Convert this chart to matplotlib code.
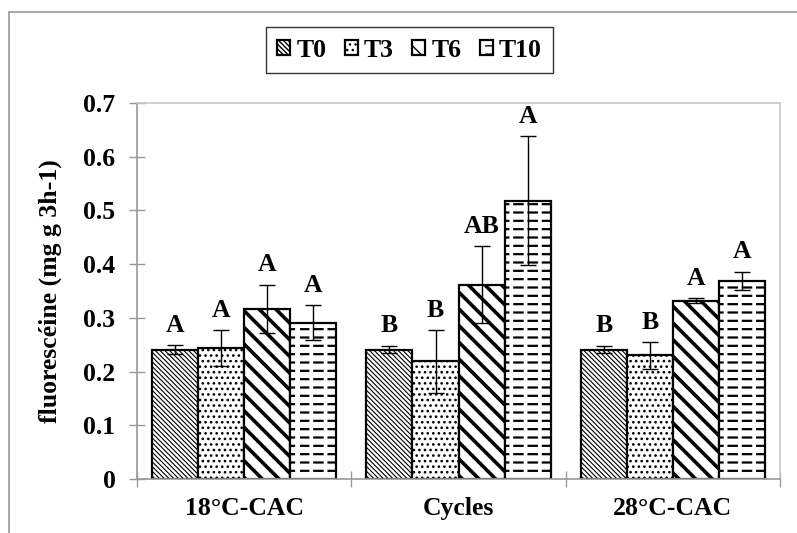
import numpy as np
import matplotlib
matplotlib.use("Agg")
import matplotlib.pyplot as plt
import matplotlib.hatch as mhatch
from matplotlib.path import Path
from matplotlib.lines import Line2D

plt.rcParams.update({
    "font.family": ["Liberation Serif", "DejaVu Serif"],
    "font.weight": "bold",
    "font.size": 18,
})


# dashed horizontal hatch (Excel "dashed horizontal" pattern) in place of '-'
class DashHatch(mhatch.HatchPatternBase):
    n_dash = 7
    frac = 0.58

    def __init__(self, hatch, density):
        self.num_lines = int((hatch.count('-') + hatch.count('+')) * density)
        self.num_vertices = self.num_lines * self.n_dash * 2

    def set_vertices_and_codes(self, vertices, codes):
        rows, step = np.linspace(0.0, 1.0, self.num_lines, False, retstep=True)
        rows += step / 2.
        starts = np.arange(self.n_dash) / self.n_dash
        yy, xx = np.meshgrid(rows, starts, indexing="ij")
        vertices[0::2, 0] = xx.ravel()
        vertices[0::2, 1] = yy.ravel()
        vertices[1::2, 0] = xx.ravel() + self.frac / self.n_dash
        vertices[1::2, 1] = yy.ravel()
        codes[0::2] = Path.MOVETO
        codes[1::2] = Path.LINETO


mhatch._hatch_types[0] = DashHatch

categories = ["18°C-CAC", "Cycles", "28°C-CAC"]
series = ["T0", "T3", "T6", "T10"]
t0 = [0.241, 0.241, 0.241]
t3 = [0.244, 0.219, 0.230]
t6 = [0.317, 0.362, 0.332]
t10 = [0.291, 0.518, 0.369]
t0_err = [0.008, 0.007, 0.007]
t3_err = [0.033, 0.058, 0.025]
t6_err = [0.045, 0.072, 0.005]
t10_err = [0.033, 0.120, 0.017]
letters_t0 = ["A", "B", "B"]
letters_t3 = ["A", "B", "B"]
letters_t6 = ["A", "AB", "A"]
letters_t10 = ["A", "A", "A"]

values = [t0, t3, t6, t10]
errors = [t0_err, t3_err, t6_err, t10_err]
letters = [letters_t0, letters_t3, letters_t6, letters_t10]
hatches = ["\\" * 7, "...", "\\\\", "--"]
hatch_lw = [0.8, 1.1, 2.6, 1.6]

fig = plt.figure(figsize=(7.97, 5.33), dpi=100)
ax = fig.add_axes([0.172, 0.1013, 0.8067, 0.7055])

x = np.arange(len(categories))
w = 0.215
offsets = (np.arange(4) - 1.5) * w

for i, name in enumerate(series):
    with plt.rc_context({"hatch.linewidth": hatch_lw[i]}):
        bars = ax.bar(x + offsets[i], values[i], w, yerr=errors[i],
                      color="white", edgecolor="black", linewidth=1.6,
                      hatch=hatches[i], label=name, capsize=5.5,
                      error_kw=dict(elinewidth=1.0, capthick=1.0, ecolor="black"))
    for p in bars.patches:
        if hasattr(p, "set_hatch_linewidth"):
            p.set_hatch_linewidth(hatch_lw[i])
    for j in range(len(categories)):
        ax.annotate(letters[i][j], (x[j] + offsets[i], values[i][j] + errors[i][j]),
                    xytext=(0, 6), textcoords="offset points",
                    ha="center", va="bottom", fontsize=18.5, fontweight="bold")

ax.set_xlim(-0.5, 2.5)
ax.set_ylim(0, 0.7)
ax.set_yticks(np.arange(0, 0.71, 0.1))
ax.set_yticklabels(["0"] + [f"{v:.1f}" for v in np.arange(0.1, 0.71, 0.1)])
ax.set_xticks([-0.5, 0.5, 1.5, 2.5])
ax.set_xticklabels([])
ax.set_xticks(x, minor=True)
ax.set_xticklabels(categories, minor=True)
ax.tick_params(axis="x", which="minor", length=0, pad=13, labelsize=18.5)
ax.tick_params(axis="x", which="major", direction="inout", length=12,
               color="#999999", width=1.0)
ax.tick_params(axis="y", direction="inout", length=11, color="#999999",
               width=1.0, pad=10, labelsize=18.5)

for side in ["left", "bottom"]:
    ax.spines[side].set_color("#999999")
    ax.spines[side].set_linewidth(1.2)
for side in ["top", "right"]:
    ax.spines[side].set_color("#c8c8c8")
    ax.spines[side].set_linewidth(1.2)

ax.set_ylabel("fluorescéine (mg g 3h-1)", fontsize=18.5, fontweight="bold",
              labelpad=15)

leg = fig.legend(loc="center", bbox_to_anchor=(0.514, 0.906), ncol=4,
                 frameon=True, fancybox=False, edgecolor="black",
                 handlelength=0.5, handleheight=0.5, handletextpad=0.24,
                 columnspacing=0.72, borderpad=0.45,
                 prop={"weight": "bold", "size": 18.5})
leg.get_frame().set_linewidth(1.0)

# outer chart-area border (left and top edges visible)
fig.add_artist(Line2D([0.0113, 0.0113], [0.0, 0.9775], color="#999999", lw=1.2))
fig.add_artist(Line2D([0.0113, 1.0], [0.9775, 0.9775], color="#999999", lw=1.2))

fig.savefig("out.png", dpi=100)
